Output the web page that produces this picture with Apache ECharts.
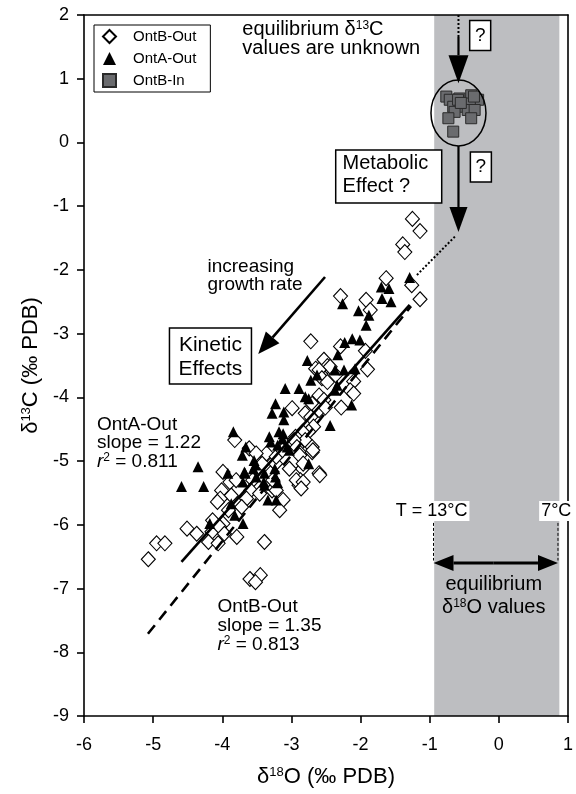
<!DOCTYPE html>
<html><head><meta charset="utf-8">
<script src="https://cdn.jsdelivr.net/npm/echarts@6/dist/echarts.min.js"></script>
<style>html,body{margin:0;padding:0;background:#fff}#c{width:576px;height:794px}</style>
</head><body><div id="c"></div>
<script>
// ---- data (δ18O, δ13C) ----
const ontBOut = [
 [-1.25,-1.20],[-1.14,-1.39],[-1.39,-1.60],[-1.36,-1.72],[-1.26,-2.24],[-1.14,-2.46],[-1.63,-2.13],[-2.29,-2.41],[-1.92,-2.47],[-1.86,-2.63],
 [-2.72,-3.12],[-2.29,-3.20],[-1.93,-3.27],[-2.53,-3.41],[-2.48,-3.51],[-2.65,-3.55],[-1.90,-3.56],[-2.44,-3.52],[-2.60,-3.57],[-2.56,-3.70],[-2.36,-3.65],
 [-2.48,-3.76],[-2.10,-3.75],[-2.15,-3.89],[-2.10,-3.94],[-2.60,-3.97],[-2.53,-4.04],[-2.70,-4.10],[-2.99,-4.17],[-2.80,-4.25],[-2.72,-4.31],[-2.28,-4.16],[-2.60,-4.20],[-2.51,-4.16],
 [-2.68,-4.46],[-2.75,-4.54],[-2.84,-4.54],[-2.94,-4.62],[-2.80,-4.67],[-2.96,-4.67],[-2.70,-4.78],[-2.92,-4.78],[-2.87,-4.88],[-2.70,-4.86],[-2.84,-5.12],[-2.60,-5.19],[-2.87,-5.30],[-2.89,-5.38],
 [-3.03,-5.12],[-3.30,-5.19],[-3.37,-4.91],[-3.42,-5.04],[-3.23,-5.04],[-3.56,-5.30],[-3.28,-5.46],[-3.59,-5.46],
 [-3.82,-4.67],[-3.36,-4.88],[-3.22,-4.93],[-3.61,-4.80],[-3.51,-4.88],[-3.13,-4.83],
 [-3.99,-5.17],[-3.89,-5.33],[-4.01,-5.46],[-3.87,-5.54],[-4.03,-5.59],[-3.65,-5.59],[-3.91,-5.77],[-3.72,-5.72],[-4.07,-5.64],[-3.80,-5.30],
 [-2.88,-4.91],[-2.69,-4.83],[-2.59,-5.22],[-2.83,-5.04],[-2.93,-5.30],[-2.83,-5.33],[-2.86,-5.43],[-3.27,-5.30],[-3.22,-5.46],[-3.46,-5.51],[-3.12,-5.61],[-3.17,-5.77],
 [-4.51,-6.06],[-4.37,-6.14],[-4.15,-6.11],[-3.99,-5.98],[-4.20,-6.27],[-4.06,-6.29],[-3.79,-6.19],[-3.39,-6.27],[-4.14,-5.93],[-4.04,-6.03],[-3.97,-6.14],
 [-4.95,-6.29],[-4.83,-6.29],[-5.07,-6.54],[-3.60,-6.85],[-3.45,-6.79],[-3.52,-6.90]
];
const ontAOut = [
 [-1.29,-2.12],[-1.70,-2.27],[-1.59,-2.29],[-1.69,-2.45],[-1.56,-2.50],[-2.26,-2.53],[-2.03,-2.64],[-1.88,-2.71],[-1.92,-2.87],
 [-2.23,-3.14],[-2.12,-3.08],[-2.01,-3.10],[-2.77,-3.42],[-2.33,-3.33],[-2.37,-3.57],[-2.24,-3.57],[-2.08,-3.55],[-2.72,-3.73],[-2.63,-3.65],
 [-3.09,-3.86],[-2.89,-3.86],[-2.80,-3.99],[-2.75,-4.02],[-2.34,-3.81],[-2.37,-3.89],[-3.23,-4.10],[-3.28,-4.25],[-3.11,-4.23],[-3.11,-4.35],[-2.13,-4.12],[-2.44,-4.44],
 [-3.18,-4.54],[-3.32,-4.62],[-3.30,-4.70],[-3.13,-4.65],[-3.06,-4.78],[-3.20,-4.75],[-3.12,-4.57],[-3.03,-4.83],[-2.75,-5.04],
 [-3.66,-4.78],[-3.71,-4.91],[-3.54,-4.99],[-3.52,-5.06],[-3.68,-5.17],[-3.40,-5.33],[-3.23,-5.25],[-3.20,-5.34],[-3.84,-4.54],[-3.55,-5.12],
 [-3.24,-5.12],[-3.39,-5.19],[-3.39,-5.38],[-3.34,-5.61],[-3.22,-5.61],[-3.67,-5.19],[-3.51,-5.25],[-3.70,-5.33],[-3.92,-5.19],[-3.87,-5.67],
 [-4.35,-5.09],[-4.59,-5.40],[-4.27,-5.40],[-3.82,-5.85],[-3.70,-5.98],[-4.18,-5.98]
];
const ontBIn = [
 [-0.76,0.72],[-0.71,0.67],[-0.57,0.69],[-0.40,0.74],[-0.30,0.67],[-0.66,0.56],[-0.49,0.56],[-0.42,0.61],[-0.64,0.48],
 [-0.45,0.51],[-0.35,0.51],[-0.73,0.38],[-0.40,0.38],[-0.66,0.17],[-0.59,0.67],[-0.36,0.72],[-0.55,0.62]
];
const fitOntA = [[-4.59,-6.58],[-1.29,-2.55]];   // slope 1.22
const fitOntB = [[-5.075,-7.71],[-1.27,-2.57]];  // slope 1.35
const equilibriumBand = [-0.935, 0.875];         // δ18O equilibrium range (T = 13°C ... 7°C)
const xRange = [-6, 1], yRange = [-9, 2];

const FONT = '"Liberation Sans", Arial, Helvetica, sans-serif';
const sup = {fontSize: 13, verticalAlign: 'top', lineHeight: 13, fontFamily: FONT, color: '#000'};

const chart = echarts.init(document.getElementById('c'));
const axisLineStyle = {color: '#000', width: 1.6};
const option = {
  animation: false,
  backgroundColor: '#fff',
  textStyle: {fontFamily: FONT},
  grid: {left: 84, right: 6, top: 15, bottom: 78, containLabel: false},
  legend: {
    data: ['OntB-Out', 'OntA-Out', 'OntB-In'],
    orient: 'vertical', left: 94, top: 25,
    borderColor: '#000', borderWidth: 1, padding: [4, 14, 4, 8],
    itemGap: 7, itemWidth: 13, itemHeight: 13, selectedMode: false,
    textStyle: {fontSize: 15, color: '#000', fontFamily: FONT, padding: [0, 0, 0, 12]}
  },
  xAxis: [{
    type: 'value', min: xRange[0], max: xRange[1], interval: 1, position: 'bottom', z: 10,
    axisLine: {onZero: false, lineStyle: axisLineStyle},
    axisTick: {show: true, inside: false, length: 7, lineStyle: axisLineStyle},
    axisLabel: {fontSize: 18, color: '#000', margin: 20, fontFamily: FONT},
    splitLine: {show: false},
    name: 'δ{s|18}O (‰ PDB)', nameLocation: 'middle', nameGap: 50,
    nameTextStyle: {fontSize: 22, color: '#000', fontFamily: FONT, lineHeight: 22, rich: {s: sup}}
  }, {
    type: 'value', min: xRange[0], max: xRange[1], position: 'top', z: 10,
    axisLine: {onZero: false, lineStyle: axisLineStyle}, axisTick: {show: false},
    axisLabel: {show: false}, splitLine: {show: false}
  }],
  yAxis: [{
    type: 'value', min: yRange[0], max: yRange[1], interval: 1, position: 'left', z: 10,
    axisLine: {onZero: false, lineStyle: axisLineStyle},
    axisTick: {show: true, inside: false, length: 7, lineStyle: axisLineStyle},
    axisLabel: {fontSize: 18, color: '#000', margin: 15, fontFamily: FONT},
    splitLine: {show: false},
    name: 'δ{s|13}C (‰ PDB)', nameLocation: 'middle', nameGap: 42,
    nameTextStyle: {fontSize: 22, color: '#000', fontFamily: FONT, lineHeight: 22, rich: {s: sup}}
  }, {
    type: 'value', min: yRange[0], max: yRange[1], position: 'right', z: 10,
    axisLine: {onZero: false, lineStyle: axisLineStyle}, axisTick: {show: false},
    axisLabel: {show: false}, splitLine: {show: false}
  }],
  series: [
    {type: 'line', name: 'band', data: [], z: 1, silent: true,
     markArea: {silent: true, itemStyle: {color: '#bdbec1'},
       data: [[{xAxis: equilibriumBand[0]}, {xAxis: equilibriumBand[1]}]]}},
    {type: 'scatter', name: 'OntB-Out', data: ontBOut, symbol: 'diamond', symbolSize: [14, 15], z: 3,
     itemStyle: {color: '#fff', borderColor: '#000', borderWidth: 1.1, opacity: 1}},
    {type: 'scatter', name: 'OntA-Out', data: ontAOut, symbol: 'triangle', symbolSize: 11, z: 4,
     itemStyle: {color: '#000', opacity: 1}},
    {type: 'scatter', name: 'OntB-In', data: ontBIn, symbol: 'rect', symbolSize: 11, z: 4,
     itemStyle: {color: '#6a6b6e', borderColor: '#2a2a2a', borderWidth: 1, opacity: 1}},
    {type: 'line', name: 'OntA fit', data: fitOntA, showSymbol: false, symbol: 'none', z: 5, silent: true,
     lineStyle: {color: '#000', width: 2.6}},
    {type: 'line', name: 'OntB fit', data: fitOntB, showSymbol: false, symbol: 'none', z: 5, silent: true,
     lineStyle: {color: '#000', width: 2.6, type: [11, 7]}}
  ]
};
chart.setOption(option);

// ---- annotations, anchored in data coordinates ----
const P = pt => chart.convertToPixel({gridIndex: 0}, pt);
const G = [];
function line(a, b, lw, dash) {
  const p = P(a), q = P(b);
  G.push({type: 'line', z: 20, shape: {x1: p[0], y1: p[1], x2: q[0], y2: q[1]},
    style: {stroke: '#000', lineWidth: lw, lineDash: dash || null}});
}
function arrow(a, b, headLen, headW, lw, dash) {
  const p = P(a), q = P(b);
  const dx = q[0] - p[0], dy = q[1] - p[1], L = Math.hypot(dx, dy), ux = dx / L, uy = dy / L;
  const bx = q[0] - ux * headLen, by = q[1] - uy * headLen, nx = -uy, ny = ux;
  G.push({type: 'line', z: 20, shape: {x1: p[0], y1: p[1], x2: bx, y2: by},
    style: {stroke: '#000', lineWidth: lw, lineDash: dash || null}});
  G.push({type: 'polygon', z: 21, shape: {points: [[q[0], q[1]], [bx + nx * headW / 2, by + ny * headW / 2], [bx - nx * headW / 2, by - ny * headW / 2]]},
    style: {fill: '#000'}});
}
function text(pt, str, size, align, extra) {
  const p = P(pt);
  const ss = Math.round(size * 0.62);
  G.push({type: 'text', z: 22, x: p[0], y: p[1],
    style: Object.assign({text: str, font: size + 'px ' + FONT, fill: '#000', align: align || 'left', verticalAlign: 'middle',
      rich: {s: {fontSize: ss, verticalAlign: 'top', lineHeight: ss, fontFamily: FONT},
             i: {fontSize: size, fontStyle: 'italic', fontFamily: FONT},
             n: {fontSize: size, fontFamily: FONT}},
      lineHeight: size + 1}, extra || {})});
}
function box(center, w, h) {
  const c = P(center);
  G.push({type: 'rect', z: 19, shape: {x: c[0] - w / 2, y: c[1] - h / 2, width: w, height: h},
    style: {fill: '#fff', stroke: '#000', lineWidth: 1.5}});
}

// top: equilibrium δ13C unknown
text([-3.71, 1.765], '{n|equilibrium δ}{s|13}{n|C}', 20);
text([-3.71, 1.47], 'values are unknown', 20);
// vertical arrows and ellipse of OntB-In
line([-0.584, 2.0], [-0.584, 1.655], 2, [2, 2]);
arrow([-0.584, 1.655], [-0.584, 0.93], 28, 20, 2.2);
const ec = P([-0.584, 0.462]);
G.push({type: 'ellipse', z: 18, shape: {cx: ec[0], cy: ec[1], rx: 27.5, ry: 33}, style: {fill: null, stroke: '#000', lineWidth: 1.5}});
arrow([-0.584, -0.056], [-0.584, -1.405], 25, 18, 2.2);
line([-1.185, -2.08], [-0.62, -1.46], 2, [2, 2]);
box([-0.27, 1.68], 21, 30); text([-0.27, 1.68], '?', 19, 'center');
box([-0.26, -0.385], 21, 30); text([-0.26, -0.385], '?', 19, 'center');
// Metabolic effect
box([-1.593, -0.534], 106, 53);
text([-2.26, -0.33], 'Metabolic', 20);
text([-2.26, -0.69], 'Effect ?', 20);
// kinetic
text([-4.214, -1.954], 'increasing', 19);
text([-4.214, -2.237], 'growth rate', 19);
arrow([-2.514, -2.111], [-3.48, -3.32], 22, 18, 2.6);
box([-4.171, -3.351], 82, 56);
text([-4.171, -3.178], 'Kinetic', 21, 'center');
text([-4.171, -3.555], 'Effects', 21, 'center');
// regression labels
text([-5.813, -4.434], 'OntA-Out', 19);
text([-5.813, -4.716], 'slope = 1.22', 19);
text([-5.813, -5.014], '{i|r}{s|2}{n| = 0.811}', 19);
text([-4.07, -7.29], 'OntB-Out', 19);
text([-4.07, -7.59], 'slope = 1.35', 19);
text([-4.07, -7.885], '{i|r}{s|2}{n| = 0.813}', 19);
// equilibrium δ18O
text([-0.973, -5.783], 'T = 13°C', 18, 'center', {backgroundColor: '#fff', padding: [1, 2, 0, 2]});
text([0.83, -5.783], '7°C', 18, 'center', {backgroundColor: '#fff', padding: [1, 2, 0, 2]});
line([equilibriumBand[0] - 0.01, -5.97], [equilibriumBand[0] - 0.01, -6.56], 1, [3, 2]);
line([equilibriumBand[1] - 0.02, -5.97], [equilibriumBand[1] - 0.02, -6.56], 1, [3, 2]);
arrow([-0.074, -6.599], [equilibriumBand[0] - 0.01, -6.599], 20, 16, 3);
arrow([-0.074, -6.599], [equilibriumBand[1] - 0.02, -6.599], 20, 16, 3);
text([-0.074, -6.944], 'equilibrium', 20, 'center');
text([-0.074, -7.305], '{n|δ}{s|18}{n|O values}', 20, 'center');

chart.setOption({graphic: {elements: G}});
</script></body></html>
